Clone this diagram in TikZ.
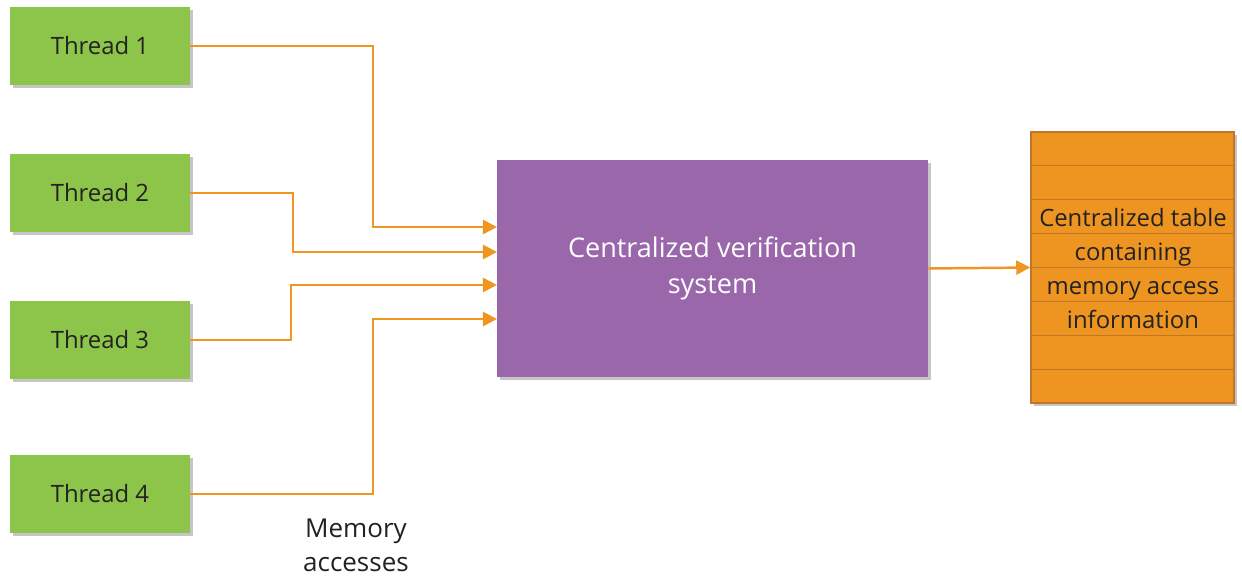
\documentclass[tikz,border=0pt]{standalone}
\usepackage{fontspec}
\setmainfont{Open Sans}
\usetikzlibrary{arrows.meta,shadows}
\definecolor{threadgreen}{HTML}{8DC54B}
\definecolor{sysviolet}{HTML}{9A67AB}
\definecolor{accorange}{HTML}{F09422}
\definecolor{taborange}{HTML}{EE9421}
\definecolor{tabline}{HTML}{C0752A}
\definecolor{txt}{HTML}{222222}
\begin{document}
\begin{tikzpicture}[x=0.02cm,y=-0.02cm,
        shade box/.style={drop shadow={shadow xshift=1.8pt,shadow yshift=-1.8pt,opacity=0.45}},
        threadbox/.style={fill=threadgreen,minimum width=180*0.02cm,minimum height=78*0.02cm,
            text=txt,font=\fontsize{13.6}{16}\selectfont,shade box},
        access/.style={draw=accorange,line width=1.6pt,-{Triangle[length=8pt,width=8pt]}}]
    \useasboundingbox (0,0) rectangle (1242,578);
    % threads
    \node[threadbox] (t1) at (100,46) {Thread 1};
    \node[threadbox] (t2) at (100,193) {Thread 2};
    \node[threadbox] (t3) at (100,340) {Thread 3};
    \node[threadbox] (t4) at (100,494) {Thread 4};
    % verification system
    \node[fill=sysviolet,minimum width=431*0.02cm,minimum height=217*0.02cm,
        text=white,align=center,font=\fontsize{15.4}{20.5}\selectfont,shade box] (cvs) at (712.5,268.5)
        {Centralized verification\\system};
    % table
    \node[fill=taborange,draw=tabline,line width=0.8pt,minimum width=203*0.02cm,minimum height=271*0.02cm,
        shade box] (tab) at (1132.5,267.5) {};
    \foreach \i in {1,...,7}
        \draw[tabline,line width=0.6pt] (1031,132+\i*33.9) -- (1234,132+\i*33.9);
    \node[text=txt,align=center,font=\fontsize{13.6}{19.3}\selectfont] (tabtext) at (1133,268.5)
        {Centralized table\\containing\\memory access\\information};
    % memory accesses
    \coordinate (in1) at (497,227);
    \coordinate (in2) at (497,252);
    \coordinate (in3) at (497,285);
    \coordinate (in4) at (497,319);
    \draw[access] (t1.east) -| (373,227) -- (in1);
    \draw[access] (t2.east) -| (293,252) -- (in2);
    \draw[access] (t3.east) -| (291,285) -- (in3);
    \draw[access] (t4.east) -| (373,319) -- (in4);
    \draw[access,line width=1.4pt] (cvs.east) -- (tab.west);
    \node[text=txt,align=center,font=\fontsize{14.8}{19.5}\selectfont] (lbl) at (356,545) {Memory\\accesses};
\end{tikzpicture}
\end{document}
